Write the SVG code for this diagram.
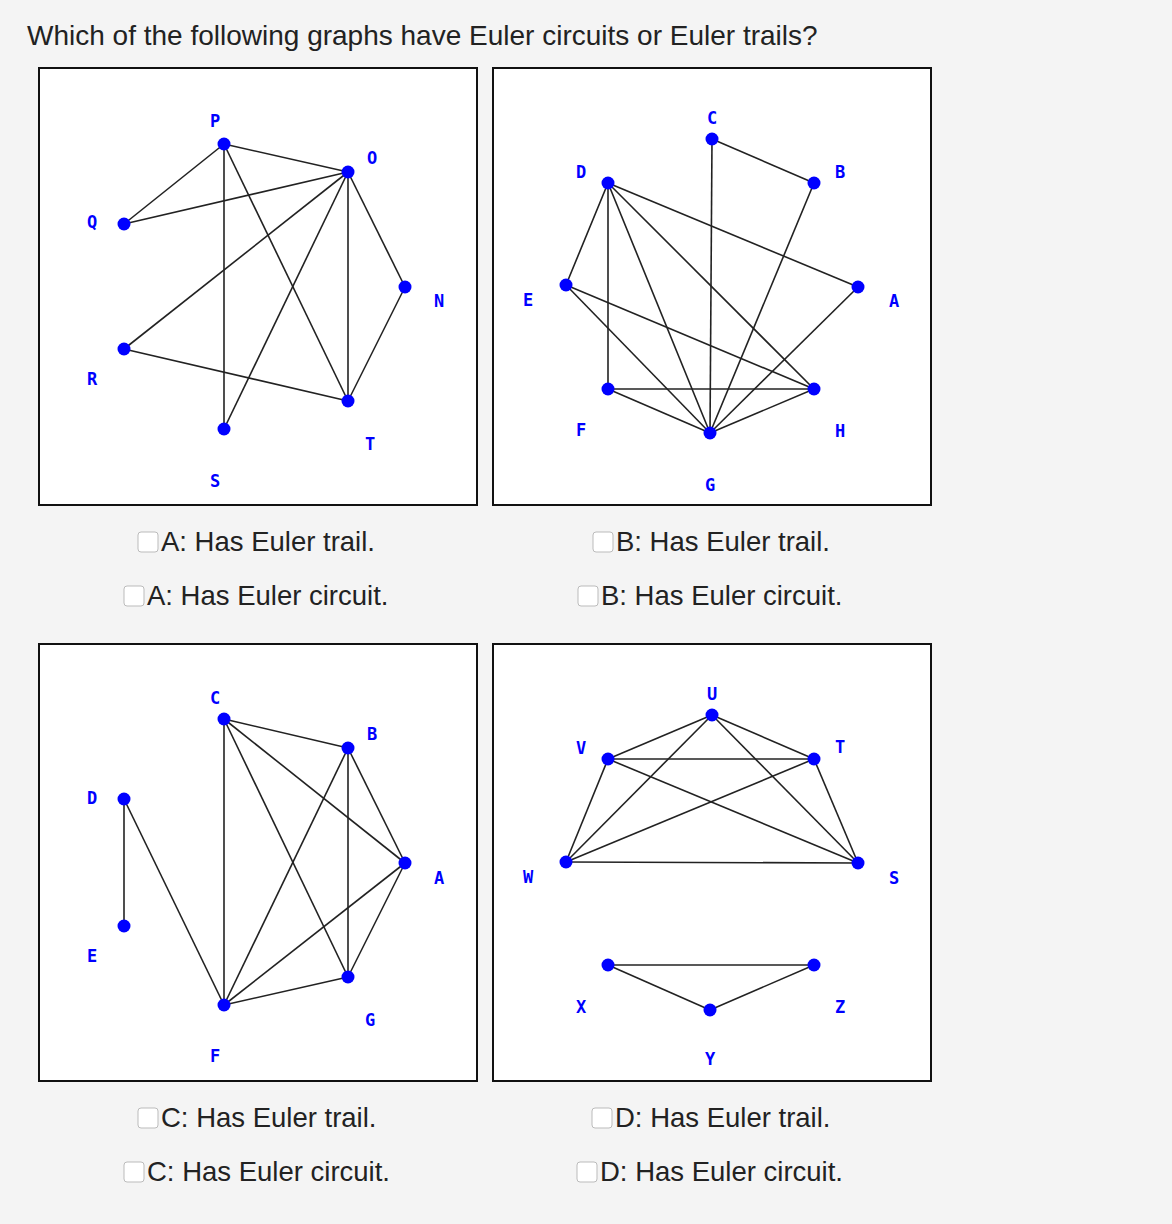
<svg xmlns="http://www.w3.org/2000/svg" width="1172" height="1224" viewBox="0 0 1172 1224">
<style>
.bg{fill:#f4f4f4}
.panel{fill:#fff;stroke:#111;stroke-width:2}
.e{stroke:#222;stroke-width:1.6;fill:none}
.n{fill:#0000ff}
.lb{font-family:"DejaVu Sans Mono","Liberation Mono",monospace;font-weight:bold;font-size:17px;fill:#0000ff;text-anchor:middle}
.q{font-family:"Liberation Sans",Arial,sans-serif;font-size:28px;fill:#222}
.opt{font-family:"Liberation Sans",Arial,sans-serif;font-size:27.5px;fill:#222}
.cb{fill:#fff;stroke:#bbb;stroke-width:1}
</style>
<rect class="bg" x="0" y="0" width="1172" height="1224"/>
<text class="q" x="27" y="45">Which of the following graphs have Euler circuits or Euler trails?</text>
<rect class="panel" x="39" y="68" width="438" height="437"/>
<rect class="panel" x="493" y="68" width="438" height="437"/>
<rect class="panel" x="39" y="644" width="438" height="437"/>
<rect class="panel" x="493" y="644" width="438" height="437"/>
<g id="connectors">
<line class="e" x1="224" y1="144" x2="348" y2="172"/>
<line class="e" x1="224" y1="144" x2="124" y2="224"/>
<line class="e" x1="224" y1="144" x2="224" y2="429"/>
<line class="e" x1="224" y1="144" x2="348" y2="401"/>
<line class="e" x1="124" y1="224" x2="348" y2="172"/>
<line class="e" x1="348" y1="172" x2="124" y2="349"/>
<line class="e" x1="348" y1="172" x2="224" y2="429"/>
<line class="e" x1="348" y1="172" x2="348" y2="401"/>
<line class="e" x1="348" y1="172" x2="405" y2="287"/>
<line class="e" x1="405" y1="287" x2="348" y2="401"/>
<line class="e" x1="124" y1="349" x2="348" y2="401"/>
<line class="e" x1="712" y1="139" x2="814" y2="183"/>
<line class="e" x1="712" y1="139" x2="710" y2="433"/>
<line class="e" x1="608" y1="183" x2="566" y2="285"/>
<line class="e" x1="608" y1="183" x2="608" y2="389"/>
<line class="e" x1="608" y1="183" x2="710" y2="433"/>
<line class="e" x1="608" y1="183" x2="814" y2="389"/>
<line class="e" x1="608" y1="183" x2="858" y2="287"/>
<line class="e" x1="566" y1="285" x2="814" y2="389"/>
<line class="e" x1="566" y1="285" x2="710" y2="433"/>
<line class="e" x1="608" y1="389" x2="814" y2="389"/>
<line class="e" x1="608" y1="389" x2="710" y2="433"/>
<line class="e" x1="710" y1="433" x2="814" y2="389"/>
<line class="e" x1="710" y1="433" x2="814" y2="183"/>
<line class="e" x1="710" y1="433" x2="858" y2="287"/>
<line class="e" x1="224" y1="719" x2="348" y2="748"/>
<line class="e" x1="224" y1="719" x2="224" y2="1005"/>
<line class="e" x1="224" y1="719" x2="405" y2="863"/>
<line class="e" x1="224" y1="719" x2="348" y2="977"/>
<line class="e" x1="348" y1="748" x2="224" y2="1005"/>
<line class="e" x1="348" y1="748" x2="348" y2="977"/>
<line class="e" x1="348" y1="748" x2="405" y2="863"/>
<line class="e" x1="405" y1="863" x2="224" y2="1005"/>
<line class="e" x1="405" y1="863" x2="348" y2="977"/>
<line class="e" x1="224" y1="1005" x2="348" y2="977"/>
<line class="e" x1="124" y1="799" x2="124" y2="926"/>
<line class="e" x1="124" y1="799" x2="224" y2="1005"/>
<line class="e" x1="712" y1="715" x2="608" y2="759"/>
<line class="e" x1="712" y1="715" x2="814" y2="759"/>
<line class="e" x1="608" y1="759" x2="814" y2="759"/>
<line class="e" x1="712" y1="715" x2="566" y2="862"/>
<line class="e" x1="712" y1="715" x2="858" y2="863"/>
<line class="e" x1="608" y1="759" x2="566" y2="862"/>
<line class="e" x1="608" y1="759" x2="858" y2="863"/>
<line class="e" x1="814" y1="759" x2="566" y2="862"/>
<line class="e" x1="814" y1="759" x2="858" y2="863"/>
<line class="e" x1="566" y1="862" x2="858" y2="863"/>
<line class="e" x1="608" y1="965" x2="814" y2="965"/>
<line class="e" x1="608" y1="965" x2="710" y2="1010"/>
<line class="e" x1="710" y1="1010" x2="814" y2="965"/>
</g>
<g id="a-P"><circle class="n" cx="224" cy="144" r="6.5"/><text class="lb" x="215" y="127">P</text></g>
<g id="a-O"><circle class="n" cx="348" cy="172" r="6.5"/><text class="lb" x="372" y="164">O</text></g>
<g id="a-Q"><circle class="n" cx="124" cy="224" r="6.5"/><text class="lb" x="92" y="228">Q</text></g>
<g id="a-N"><circle class="n" cx="405" cy="287" r="6.5"/><text class="lb" x="439" y="307">N</text></g>
<g id="a-R"><circle class="n" cx="124" cy="349" r="6.5"/><text class="lb" x="92" y="385">R</text></g>
<g id="a-T"><circle class="n" cx="348" cy="401" r="6.5"/><text class="lb" x="370" y="450">T</text></g>
<g id="a-S"><circle class="n" cx="224" cy="429" r="6.5"/><text class="lb" x="215" y="487">S</text></g>
<g id="b-C"><circle class="n" cx="712" cy="139" r="6.5"/><text class="lb" x="712" y="124">C</text></g>
<g id="b-B"><circle class="n" cx="814" cy="183" r="6.5"/><text class="lb" x="840" y="178">B</text></g>
<g id="b-D"><circle class="n" cx="608" cy="183" r="6.5"/><text class="lb" x="581" y="178">D</text></g>
<g id="b-E"><circle class="n" cx="566" cy="285" r="6.5"/><text class="lb" x="528" y="306">E</text></g>
<g id="b-A"><circle class="n" cx="858" cy="287" r="6.5"/><text class="lb" x="894" y="307">A</text></g>
<g id="b-F"><circle class="n" cx="608" cy="389" r="6.5"/><text class="lb" x="581" y="436">F</text></g>
<g id="b-H"><circle class="n" cx="814" cy="389" r="6.5"/><text class="lb" x="840" y="437">H</text></g>
<g id="b-G"><circle class="n" cx="710" cy="433" r="6.5"/><text class="lb" x="710" y="491">G</text></g>
<g id="c-C"><circle class="n" cx="224" cy="719" r="6.5"/><text class="lb" x="215" y="704">C</text></g>
<g id="c-B"><circle class="n" cx="348" cy="748" r="6.5"/><text class="lb" x="372" y="740">B</text></g>
<g id="c-D"><circle class="n" cx="124" cy="799" r="6.5"/><text class="lb" x="92" y="804">D</text></g>
<g id="c-A"><circle class="n" cx="405" cy="863" r="6.5"/><text class="lb" x="439" y="884">A</text></g>
<g id="c-E"><circle class="n" cx="124" cy="926" r="6.5"/><text class="lb" x="92" y="962">E</text></g>
<g id="c-G"><circle class="n" cx="348" cy="977" r="6.5"/><text class="lb" x="370" y="1026">G</text></g>
<g id="c-F"><circle class="n" cx="224" cy="1005" r="6.5"/><text class="lb" x="215" y="1062">F</text></g>
<g id="d-U"><circle class="n" cx="712" cy="715" r="6.5"/><text class="lb" x="712" y="700">U</text></g>
<g id="d-V"><circle class="n" cx="608" cy="759" r="6.5"/><text class="lb" x="581" y="754">V</text></g>
<g id="d-T"><circle class="n" cx="814" cy="759" r="6.5"/><text class="lb" x="840" y="753">T</text></g>
<g id="d-W"><circle class="n" cx="566" cy="862" r="6.5"/><text class="lb" x="528" y="883">W</text></g>
<g id="d-S"><circle class="n" cx="858" cy="863" r="6.5"/><text class="lb" x="894" y="884">S</text></g>
<g id="d-X"><circle class="n" cx="608" cy="965" r="6.5"/><text class="lb" x="581" y="1013">X</text></g>
<g id="d-Z"><circle class="n" cx="814" cy="965" r="6.5"/><text class="lb" x="840" y="1013">Z</text></g>
<g id="d-Y"><circle class="n" cx="710" cy="1010" r="6.5"/><text class="lb" x="710" y="1065">Y</text></g>
<rect class="cb" x="138" y="532" width="20" height="20" rx="3"/><text class="opt" x="161" y="551">A: Has Euler trail.</text>
<rect class="cb" x="124" y="586" width="20" height="20" rx="3"/><text class="opt" x="147" y="605">A: Has Euler circuit.</text>
<rect class="cb" x="593" y="532" width="20" height="20" rx="3"/><text class="opt" x="616" y="551">B: Has Euler trail.</text>
<rect class="cb" x="578" y="586" width="20" height="20" rx="3"/><text class="opt" x="601" y="605">B: Has Euler circuit.</text>
<rect class="cb" x="138" y="1108" width="20" height="20" rx="3"/><text class="opt" x="161" y="1127">C: Has Euler trail.</text>
<rect class="cb" x="124" y="1162" width="20" height="20" rx="3"/><text class="opt" x="147" y="1181">C: Has Euler circuit.</text>
<rect class="cb" x="592" y="1108" width="20" height="20" rx="3"/><text class="opt" x="615" y="1127">D: Has Euler trail.</text>
<rect class="cb" x="577" y="1162" width="20" height="20" rx="3"/><text class="opt" x="600" y="1181">D: Has Euler circuit.</text>
</svg>
